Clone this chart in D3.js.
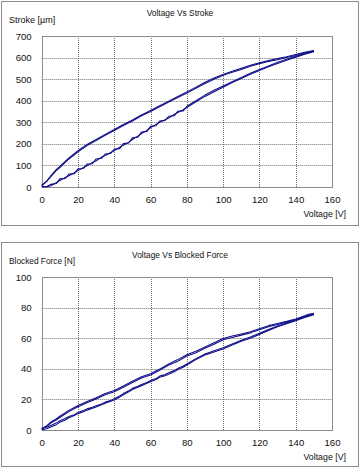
<!DOCTYPE html>
<html><head><meta charset="utf-8">
<script src="https://cdn.jsdelivr.net/npm/d3@7"></script>
<style>
html,body{margin:0;padding:0;background:#fff;}
svg{display:block;font-family:"Liberation Sans",Arial,sans-serif;}
</style></head>
<body><svg id="c" width="360" height="470"></svg>
<script>
// ---------- data ----------
const xTicks = [0,20,40,60,80,100,120,140,160];
const strokeTicks = [0,100,200,300,400,500,600,700];
const forceTicks = [0,20,40,60,80,100];

// voltage samples (V) for the rising (charge) and falling (discharge) branches
const vUp   = [0,3,5,8,10,13,15,18,20,23,25,28,30,33,35,38,40,43,45,48,50,53,55,58,60,63,65,68,70,73,75,78,80,85,90,95,100,105,110,115,120,125,130,135,140,145,150];
const vDown = [150,147,145,140,135,130,125,120,115,110,105,100,95,90,85,80,75,70,65,60,55,50,45,40,35,30,25,20,15,10,8,5,3,0];

// Stroke [µm], cycle 1 and cycle 2
const strokeUp1 = [2,1,6,20,30,44,52,66,76,90,98,114,122,138,146,160,168,184,194,208,220,236,248,262,276,290,300,312,320,336,345,358,368,395,420,442,462,484,503,523,540,557,573,588,602,615,627];
const strokeUp2 = [0,3,12,16,38,40,60,62,84,86,106,108,130,133,153,156,176,178,201,204,228,231,255,258,281,284,306,309,328,330,351,353,374,400,426,448,468,488,508,527,545,561,578,592,606,619,630];
const strokeDown1 = [631,625,621,610,600,590,582,572,560,545,532,518,500,480,458,436,415,394,372,350,330,306,285,262,240,215,192,163,130,90,76,48,28,8];
const strokeDown2 = [633,628,624,614,604,595,586,576,564,550,537,522,505,486,463,441,420,398,377,355,334,311,290,267,244,220,197,168,135,95,80,52,30,4];

// Blocked force [N], cycle 1 and cycle 2
const forceUp1 = [0,1,2,3.5,5,6.5,8,9.5,10.7,12,13,14.2,15,16.5,17.5,18.8,19.6,21.5,23,25,26.5,28,29,30.5,31.6,33,34.5,35.5,36.5,38,39.5,41,42.5,46,49,51,53,55.5,58,60,62.5,65,67.5,69.5,71.5,73.5,75.4];
const forceUp2 = [1,2,3,4.5,6,7.5,8.8,10,11.5,12.8,13.8,14.8,15.8,17,18.2,19.2,20.4,22.2,23.8,25.6,27.2,28.6,29.8,31,32.4,33.6,35.2,36.2,37.4,38.8,40.2,41.8,43.2,46.6,49.6,51.8,53.8,56.2,58.6,60.8,63.2,65.6,68,70,72,74,75.8];
const forceDown1 = [75.6,75,74,72,70.5,69,67.5,65.5,63.5,62,60.5,59,56,53.4,50.5,48.4,45,42.5,39,36,34,31,28,25,23,20.2,17.8,15.2,12,8.2,6.5,4.5,2.5,1];
const forceDown2 = [76.2,75.6,74.6,72.6,71,69.6,68.2,66.2,64.2,62.8,61.4,59.8,57,54.2,51.4,49.2,46,43.2,39.8,36.8,34.8,31.8,28.8,25.8,23.8,21,18.6,16,12.8,9,7.2,5.2,3,0.5];

// ---------- drawing ----------
const svg = d3.select("#c");
const lineColor = "#10108a";

function panel(o){
  const g = svg.append("g");
  g.append("rect").attr("x",o.box[0]+0.5).attr("y",o.box[1]+0.5)
    .attr("width",o.box[2]).attr("height",o.box[3])
    .attr("fill","#fff").attr("stroke","#8c8c8c").attr("stroke-width",1);

  const x = d3.scaleLinear().domain([0,160]).range([o.left,o.right]);
  const y = d3.scaleLinear().domain([0,o.ymax]).range([o.bottom,o.top]);

  const grid = g.append("g").attr("stroke","#6e6e6e").attr("stroke-width",1).attr("stroke-dasharray","1,1");
  grid.selectAll(".vx").data(xTicks.slice(1,-1)).join("line")
    .attr("x1",d=>Math.round(x(d))+0.5).attr("x2",d=>Math.round(x(d))+0.5)
    .attr("y1",o.top).attr("y2",o.bottom);
  grid.selectAll(".hy").data(o.yTicks.slice(1,-1)).join("line")
    .attr("y1",d=>Math.round(y(d))+0.5).attr("y2",d=>Math.round(y(d))+0.5)
    .attr("x1",o.left).attr("x2",o.right);
  g.append("rect").attr("x",Math.round(o.left)+0.5).attr("y",Math.round(o.top)+0.5)
    .attr("width",Math.round(o.right-o.left)).attr("height",Math.round(o.bottom-o.top))
    .attr("fill","none").attr("stroke","#8c8c8c").attr("stroke-width",1);

  const ax = g.append("g").attr("transform",`translate(0,${o.bottom})`)
    .call(d3.axisBottom(x).tickValues(xTicks).tickSize(0).tickPadding(9));
  const ay = g.append("g").attr("transform",`translate(${o.left},0)`)
    .call(d3.axisLeft(y).tickValues(o.yTicks).tickSize(0).tickPadding(10));
  [ax,ay].forEach(a=>{
    a.select(".domain").remove();
    a.selectAll("text").attr("font-family","Liberation Sans, Arial, sans-serif")
      .attr("font-size",9.6).attr("fill","#111");
  });

  g.append("text").attr("x",180).attr("y",o.titleY).attr("text-anchor","middle")
    .attr("font-size",8.4).attr("fill","#111").text(o.title);
  g.append("text").attr("x",o.yLabX).attr("y",o.yLabY)
    .attr("font-size",o.yLabSize).attr("fill","#111").text(o.yLabel);
  g.append("text").attr("x",346).attr("y",o.xLabY).attr("text-anchor","end")
    .attr("font-size",8.8).attr("fill","#111").text("Voltage [V]");

  const line = d3.line().x(d=>x(d[0])).y(d=>y(d[1]));
  const cg = g.append("g").attr("fill","none").attr("stroke",lineColor)
    .attr("stroke-width",1.1).attr("stroke-linejoin","round");
  o.series.forEach(s=>{
    const pts = s.v.map((v,i)=>[v,s.y[i]]);
    cg.append("path").attr("d",line(pts));
  });
}

panel({
  box:[1,1,357,224], left:41.7, right:332, top:36, bottom:187, ymax:700,
  yTicks:strokeTicks, title:"Voltage Vs Stroke", titleY:16,
  yLabel:"Stroke [\u00b5m]", yLabX:9, yLabY:23, yLabSize:9, xLabY:217,
  series:[{v:vUp,y:strokeUp1},{v:vUp,y:strokeUp2},{v:vDown,y:strokeDown1},{v:vDown,y:strokeDown2}]
});
panel({
  box:[1,242,357,224], left:41.7, right:332, top:277, bottom:430, ymax:100,
  yTicks:forceTicks, title:"Voltage Vs Blocked Force", titleY:258,
  yLabel:"Blocked Force [N]", yLabX:9, yLabY:264, yLabSize:8.3, xLabY:460,
  series:[{v:vUp,y:forceUp1},{v:vUp,y:forceUp2},{v:vDown,y:forceDown1},{v:vDown,y:forceDown2}]
});
</script></body></html>
